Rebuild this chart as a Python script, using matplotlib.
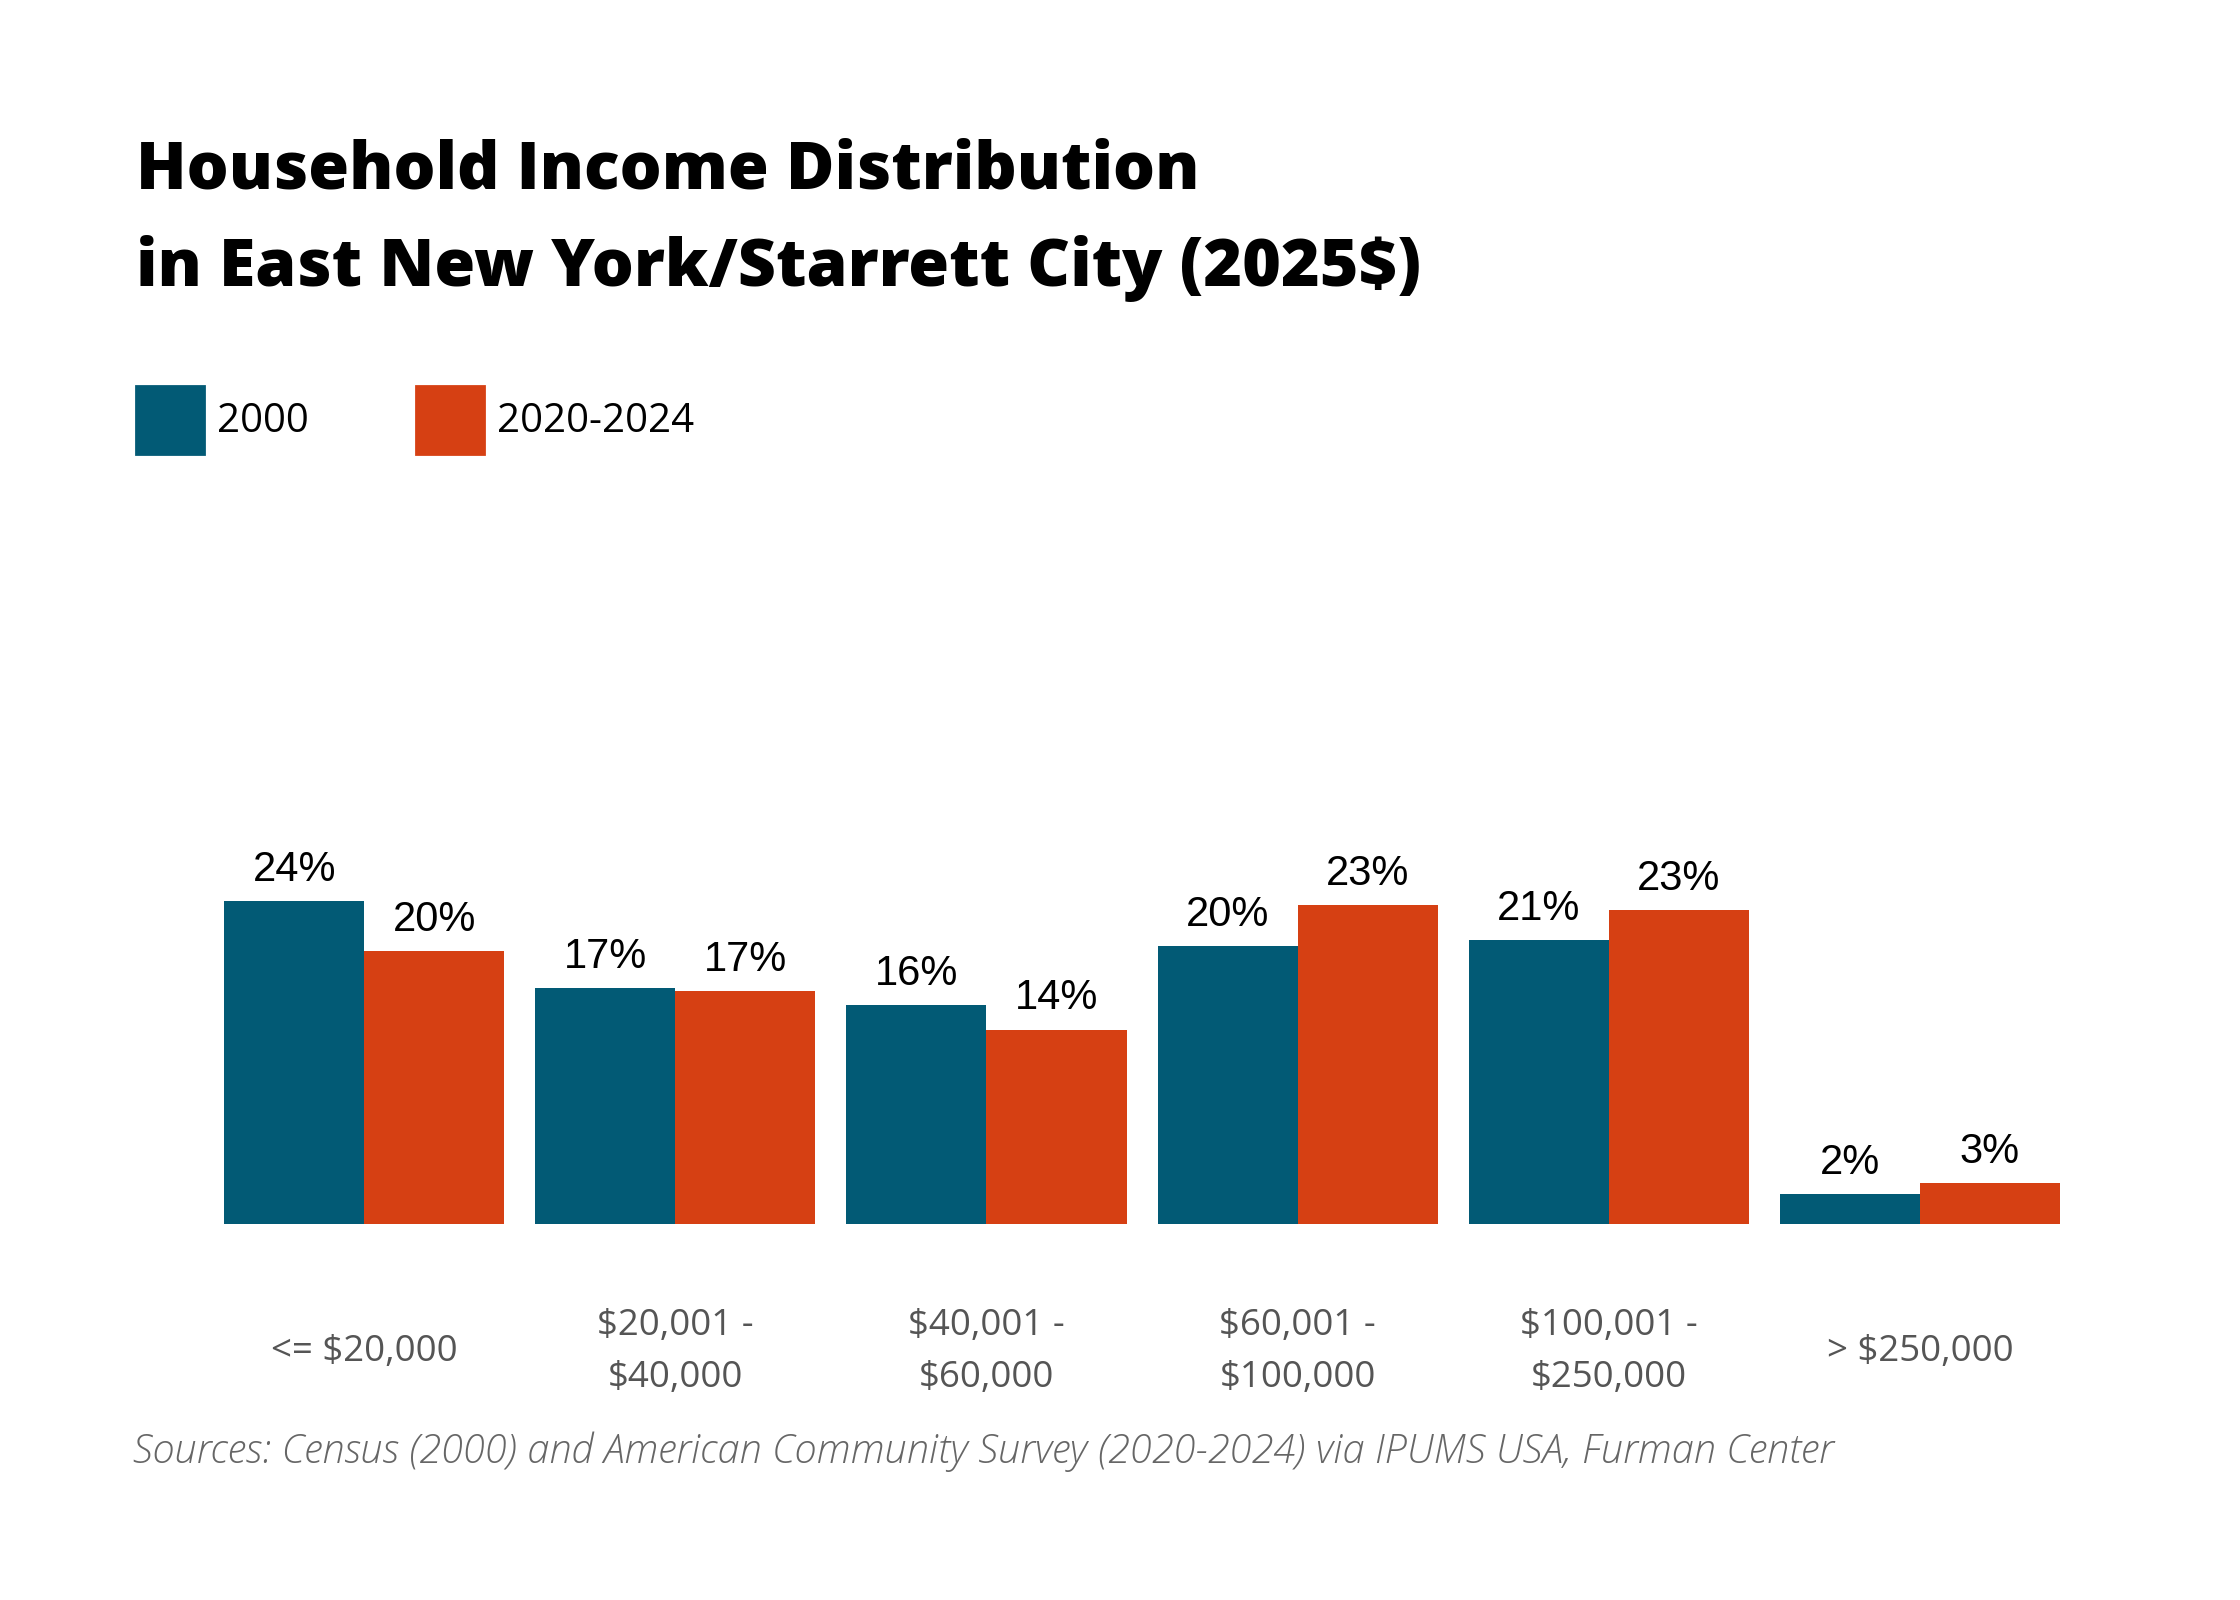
import matplotlib
matplotlib.use("Agg")
import matplotlib.pyplot as plt
from matplotlib.patches import Rectangle
import numpy as np

# data
categories = ["<= $20,000", "$20,001 -\n$40,000", "$40,001 -\n$60,000",
              "$60,001 -\n$100,000", "$100,001 -\n$250,000", "> $250,000"]
series_names = ["2000", "2020-2024"]
share_2000 = [23.6, 17.2, 16.0, 20.3, 20.7, 2.2]
share_2020 = [19.9, 17.0, 14.2, 23.3, 22.9, 3.0]

BLUE = "#025A75"
ORANGE = "#D64013"
SANS = "Open Sans"

fig = plt.figure(figsize=(11.2, 8), dpi=200)
fig.patch.set_facecolor("white")

# main axes placed so bars line up with the reference
ax = fig.add_axes([0.1001, 0.2348, 0.8195, 0.2571])
x = np.arange(len(categories))
w = 0.45
b1 = ax.bar(x - w / 2, share_2000, width=w, color=BLUE)
b2 = ax.bar(x + w / 2, share_2020, width=w, color=ORANGE)

fmt = lambda v: f"{v:.0f}%"
for bars in (b1, b2):
    ax.bar_label(bars, labels=[fmt(v) for v in bars.datavalues], padding=4,
                 fontsize=15, family="Liberation Sans", color="black")

ax.set_xlim(-0.45, len(categories) - 0.55)
ax.set_ylim(0, 30)
ax.set_yticks([])
ax.set_xticks(x)
ax.set_xticklabels(categories, family=SANS, fontsize=13.2, color="#555555",
                   linespacing=1.6)
for lab in ax.get_xticklabels():
    lab.set_va("center")
ax.tick_params(axis="x", length=0, pad=46)
for s in ax.spines.values():
    s.set_visible(False)

# title
fig.text(0.0606, 0.882, "Household Income Distribution", family=SANS,
         weight="extra bold", fontsize=23.8, va="baseline", color="black")
fig.text(0.0606, 0.8214, "in East New York/Starrett City (2025$)", family=SANS,
         weight="extra bold", fontsize=23.8, va="baseline", color="black")

# legend
leg_x = [0.0606, 0.1856]
for lx, name, col in zip(leg_x, series_names, [BLUE, ORANGE]):
    fig.patches.append(Rectangle((lx, 0.716), 0.0306, 0.0429, color=col,
                                 transform=fig.transFigure, figure=fig))
    fig.text(lx + 0.0363, 0.7366, name, family=SANS, fontsize=14.5,
             va="center", color="black")

# source note
fig.text(0.0593, 0.0925,
         "Sources: Census (2000) and American Community Survey (2020-2024) via IPUMS USA, Furman Center",
         family=SANS, style="italic", weight="light", fontsize=14.3,
         color="#666666", va="center")

fig.savefig("out.png", dpi=200)
